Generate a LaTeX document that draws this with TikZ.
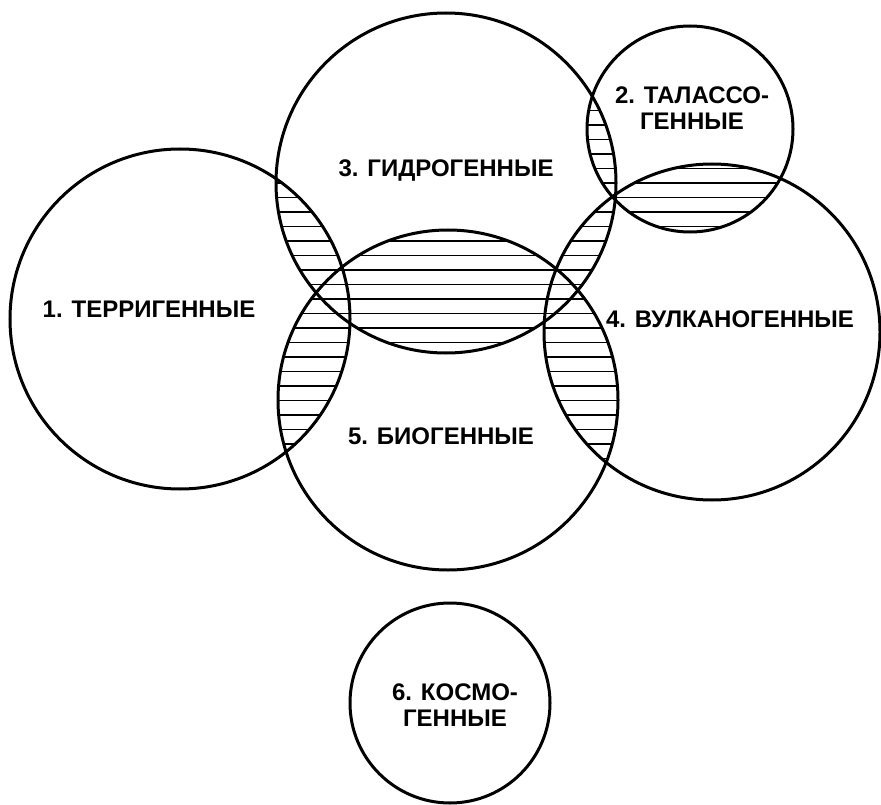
\documentclass[tikz,border=0pt]{standalone}
\usepackage{fontspec}
\setmainfont{Liberation Sans}
\begin{document}
\begin{tikzpicture}[x=1pt,y=-1pt,
  ring/.style={circle, draw=black, line width=3pt, inner sep=0pt, outer sep=0pt},
  hatchline/.style={draw=black, line width=1.5pt},
  lbl/.style={font=\fontsize{24}{26}\selectfont\bfseries, align=center,
              inner sep=0pt, anchor=base}]
\fill[white] (0,0) rectangle (881,805);
\useasboundingbox (0,0) rectangle (881,805);

% circle centres
\coordinate (p1) at (180,319);
\coordinate (p2) at (690,129);
\coordinate (p3) at (446,183);
\coordinate (p4) at (712,332);
\coordinate (p5) at (448,400);
\coordinate (p6) at (450,703);

% horizontal hatching in every pairwise overlap
\foreach \a/\ra/\b/\rb in {p1/170/p3/170, p1/170/p5/170, p3/170/p5/170,
                           p2/103/p3/170, p2/103/p4/168, p3/170/p4/168,
                           p4/168/p5/170} {
  \begin{scope}
    \clip (\a) circle[radius=\ra pt];
    \clip (\b) circle[radius=\rb pt];
    \foreach \k in {0,...,55}
      \draw[hatchline] (0,{9+14.5*\k}) -- (881,{9+14.5*\k});
  \end{scope}
}

% the six circles
\node[ring, minimum size=340pt] (c1) at (p1) {};
\node[ring, minimum size=206pt] (c2) at (p2) {};
\node[ring, minimum size=340pt] (c3) at (p3) {};
\node[ring, minimum size=336pt] (c4) at (p4) {};
\node[ring, minimum size=340pt] (c5) at (p5) {};
\node[ring, minimum size=200pt] (c6) at (p6) {};

% labels (base anchor = baseline of the last line)
\node[lbl] (t1) at (149,317) {1. ТЕРРИГЕННЫЕ};
\node[lbl] (t2) at (692,130) {2. ТАЛАССО-\\ГЕННЫЕ};
\node[lbl] (t3) at (446,177) {3. ГИДРОГЕННЫЕ};
\node[lbl] (t4) at (730,327) {4. ВУЛКАНОГЕННЫЕ};
\node[lbl] (t5) at (441,444) {5. БИОГЕННЫЕ};
\node[lbl] (t6) at (455,726) {6. КОСМО-\\ГЕННЫЕ};
\end{tikzpicture}
\end{document}
